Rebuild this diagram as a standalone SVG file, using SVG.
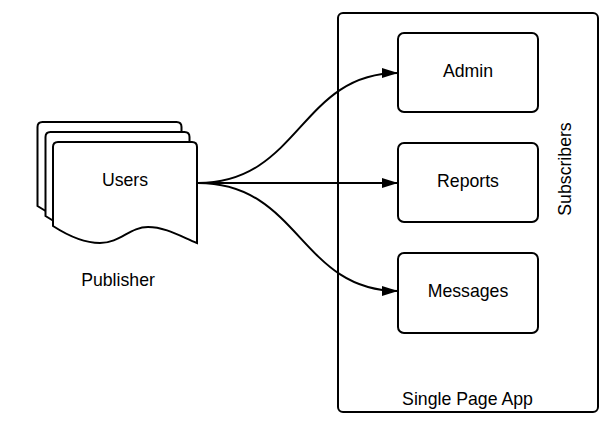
<svg xmlns="http://www.w3.org/2000/svg" width="609" height="430" viewBox="0 0 609 430">
  <style>
    .shape { fill: #ffffff; stroke: #000000; stroke-width: 2; }
    .conn { fill: none; stroke: #000000; stroke-width: 2; }
    .label { font-family: "Liberation Sans", Arial, sans-serif; font-size: 17.7px; fill: #000000; text-anchor: middle; }
  </style>
  <defs>
    <marker id="arrow" markerUnits="userSpaceOnUse" markerWidth="16" markerHeight="10" refX="16" refY="5" orient="auto">
      <path d="M0,0 L16,5 L0,10 Z" fill="#000000"/>
    </marker>
    <path id="doc" d="M53,147 Q53,142 58,142 L192,142 Q197,142 197,147 L197,243 C180,236 165,227 148,227 C130,227 120,243 100,243 C85,243 70,237 53,226 Z"/>
  </defs>
  <rect width="609" height="430" fill="#ffffff"/>

  <g id="spa-container">
    <rect class="shape" x="338" y="13" width="260" height="399" rx="5" ry="5"/>
    <text class="label" x="467.5" y="405">Single Page App</text>
    <text class="label" transform="translate(571,169) rotate(-90)">Subscribers</text>
  </g>

  <g id="users">
    <use href="#doc" class="shape" transform="translate(-15.5,-20)"/>
    <use href="#doc" class="shape" transform="translate(-7.5,-10)"/>
    <use href="#doc" class="shape"/>
    <text class="label" x="125" y="186">Users</text>
  </g>

  <g id="publisher-label">
    <text class="label" x="118" y="286">Publisher</text>
  </g>

  <g id="connectors">
    <path class="conn" d="M198,183 C300,183 300,73 398,73" marker-end="url(#arrow)"/>
    <path class="conn" d="M198,183 L398,183" marker-end="url(#arrow)"/>
    <path class="conn" d="M198,183 C300,183 300,291 398,291" marker-end="url(#arrow)"/>
  </g>

  <g id="admin">
    <rect class="shape" x="398" y="33" width="140" height="79" rx="6" ry="6"/>
    <text class="label" x="468" y="77">Admin</text>
  </g>
  <g id="reports">
    <rect class="shape" x="398" y="143" width="140" height="79" rx="6" ry="6"/>
    <text class="label" x="468" y="187">Reports</text>
  </g>
  <g id="messages">
    <rect class="shape" x="398" y="253" width="140" height="80" rx="6" ry="6"/>
    <text class="label" x="468" y="297">Messages</text>
  </g>
</svg>
